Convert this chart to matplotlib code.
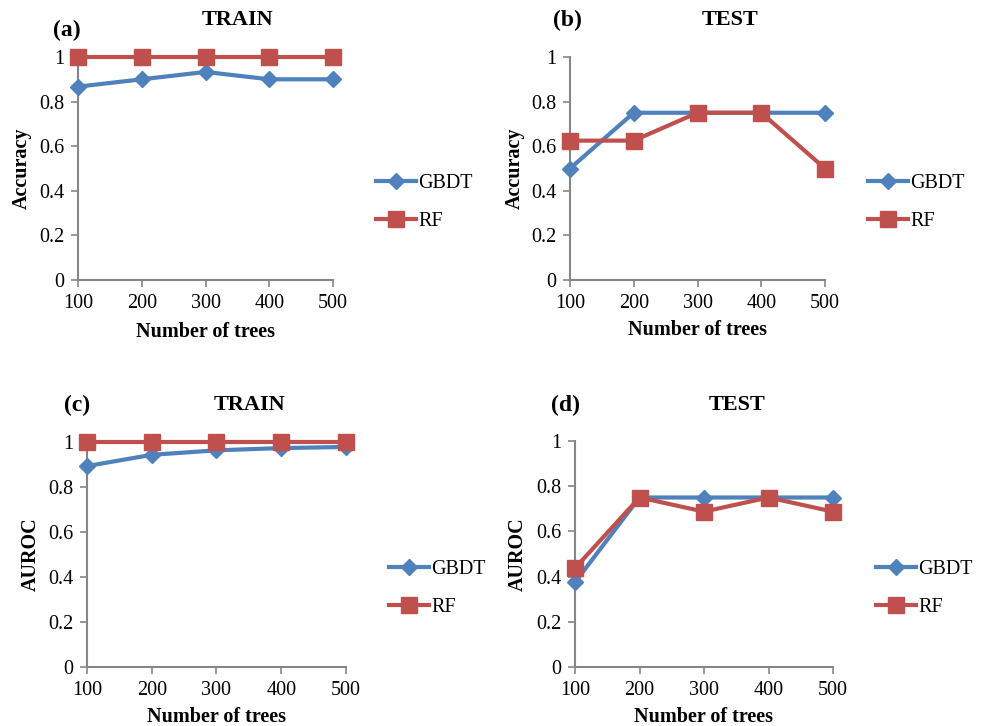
import matplotlib
matplotlib.use('Agg')
import matplotlib.pyplot as plt

plt.rcParams['font.family'] = ['Liberation Serif', 'DejaVu Serif']

trees = [100, 200, 300, 400, 500]
yticks = [0, 0.2, 0.4, 0.6, 0.8, 1]
ytick_labels = ['0', '0.2', '0.4', '0.6', '0.8', '1']

acc_train_gbdt = [0.867, 0.9, 0.933, 0.9, 0.9]
acc_train_rf = [1, 1, 1, 1, 1]
acc_test_gbdt = [0.5, 0.75, 0.75, 0.75, 0.75]
acc_test_rf = [0.625, 0.625, 0.75, 0.75, 0.5]
auc_train_gbdt = [0.893, 0.943, 0.963, 0.973, 0.978]
auc_train_rf = [1, 1, 1, 1, 1]
auc_test_gbdt = [0.375, 0.75, 0.75, 0.75, 0.75]
auc_test_rf = [0.4375, 0.75, 0.6875, 0.75, 0.6875]

W, H = 984, 726
BLUE = '#4F81BD'
RED = '#C0504D'
GRAY = '#868686'

fig = plt.figure(figsize=(W / 100, H / 100), dpi=100)


def px_axes(x0, x1, y_top, y_bot):
    return fig.add_axes([x0 / W, 1 - y_bot / H, (x1 - x0) / W, (y_bot - y_top) / H])


def panel(box, gbdt, rf, tag, title, ylabel, tag_xy, title_xy, ylab_x, xlab_y, leg_xy):
    x0, x1, yt, yb = box
    ax = px_axes(x0, x1, yt, yb)
    ax.plot(trees, gbdt, color=BLUE, lw=3, marker='D', ms=8,
            label='GBDT', clip_on=False, zorder=3)
    ax.plot(trees, rf, color=RED, lw=3, marker='s', ms=11,
            label='RF', clip_on=False, zorder=3)
    ax.set_xlim(100, 500)
    ax.set_ylim(0, 1)
    ax.set_xticks(trees)
    ax.set_yticks(yticks)
    ax.set_yticklabels(ytick_labels)
    for s in ['top', 'right']:
        ax.spines[s].set_visible(False)
    for s in ['left', 'bottom']:
        ax.spines[s].set_color(GRAY)
        ax.spines[s].set_linewidth(1.5)
    ax.tick_params(axis='both', color=GRAY, width=1.2, length=5,
                   labelsize=14.5, labelcolor='black')
    ax.tick_params(axis='x', pad=5)
    ax.tick_params(axis='y', pad=5)
    fig.text(tag_xy[0] / W, 1 - tag_xy[1] / H, tag, fontsize=17,
             fontweight='bold', ha='center', va='center')
    fig.text(title_xy[0] / W, 1 - title_xy[1] / H, title, fontsize=16,
             fontweight='bold', ha='center', va='center')
    fig.text(ylab_x / W, 1 - (yt + yb) / 2 / H, ylabel, fontsize=14.5,
             fontweight='bold', rotation=90, ha='center', va='center')
    fig.text((x0 + x1) / 2 / W, 1 - xlab_y / H, 'Number of trees',
             fontsize=14.5, fontweight='bold', ha='center', va='center')
    lx, ly = leg_xy
    ax.legend(loc='upper left', bbox_to_anchor=(lx / W, 1 - ly / H),
              bbox_transform=fig.transFigure, frameon=False, fontsize=14.5,
              handlelength=2.0, handletextpad=0.1, labelspacing=0.95,
              borderpad=0, borderaxespad=0)
    return ax


panel((78, 333, 57, 280), acc_train_gbdt, acc_train_rf, '(a)', 'TRAIN',
      'Accuracy', (67, 30), (238, 20), 22, 332, (376, 174))
panel((570, 825, 57, 280), acc_test_gbdt, acc_test_rf, '(b)', 'TEST',
      'Accuracy', (567, 20), (730, 20), 515, 330, (868, 174))
panel((87, 346, 442, 667), auc_train_gbdt, auc_train_rf, '(c)', 'TRAIN',
      'AUROC', (77, 405), (249, 405), 31, 717, (389, 560))
panel((575, 833, 441, 667), auc_test_gbdt, auc_test_rf, '(d)', 'TEST',
      'AUROC', (565, 405), (737, 405), 518, 717, (876, 560))

fig.savefig('out.png', dpi=100)
